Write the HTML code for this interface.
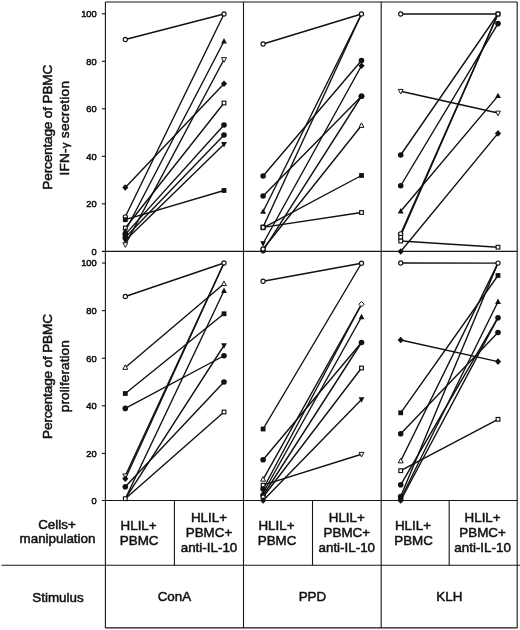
<!DOCTYPE html>
<html><head><meta charset="utf-8"><title>Figure</title>
<style>html,body{margin:0;padding:0;background:#fff}svg{display:block}text{font-family:"Liberation Sans",sans-serif;fill:#111}</style></head><body>
<svg width="520" height="630" viewBox="0 0 520 630">
<rect width="520" height="630" fill="#fff"/>
<g stroke="#151515" stroke-width="1.1" fill="none">
<line x1="105.4" y1="2.0" x2="517.2" y2="2.0"/>
<line x1="101.9" y1="251.4" x2="517.2" y2="251.4"/>
<line x1="101.9" y1="500.5" x2="517.2" y2="500.5"/>
<line x1="1.5" y1="565.3" x2="520" y2="565.3"/>
<line x1="105.4" y1="627.9" x2="517.2" y2="627.9"/>
<line x1="105.4" y1="2.0" x2="105.4" y2="627.9"/>
<line x1="243.5" y1="2.0" x2="243.5" y2="627.9"/>
<line x1="381.2" y1="2.0" x2="381.2" y2="627.9"/>
<line x1="517.2" y1="2.0" x2="517.2" y2="627.9"/>
<line x1="174.4" y1="500.5" x2="174.4" y2="565.3"/>
<line x1="312.5" y1="500.5" x2="312.5" y2="565.3"/>
<line x1="449.2" y1="500.5" x2="449.2" y2="565.3"/>
<line x1="101.9" y1="203.80" x2="105.4" y2="203.80"/>
<line x1="101.9" y1="156.30" x2="105.4" y2="156.30"/>
<line x1="101.9" y1="108.80" x2="105.4" y2="108.80"/>
<line x1="101.9" y1="61.30" x2="105.4" y2="61.30"/>
<line x1="101.9" y1="13.80" x2="105.4" y2="13.80"/>
<line x1="101.9" y1="453.40" x2="105.4" y2="453.40"/>
<line x1="101.9" y1="405.80" x2="105.4" y2="405.80"/>
<line x1="101.9" y1="358.20" x2="105.4" y2="358.20"/>
<line x1="101.9" y1="310.60" x2="105.4" y2="310.60"/>
<line x1="101.9" y1="263.00" x2="105.4" y2="263.00"/>
</g>
<g font-size="9.3" text-anchor="end" stroke="#111" stroke-width="0.5">
<text x="96.7" y="254.70">0</text>
<text x="96.7" y="207.20">20</text>
<text x="96.7" y="159.70">40</text>
<text x="96.7" y="112.20">60</text>
<text x="96.7" y="64.70">80</text>
<text x="96.7" y="17.20">100</text>
<text x="96.7" y="504.40">0</text>
<text x="96.7" y="456.80">20</text>
<text x="96.7" y="409.20">40</text>
<text x="96.7" y="361.60">60</text>
<text x="96.7" y="314.00">80</text>
<text x="96.7" y="266.40">100</text>
</g>
<g stroke="#111" stroke-width="1.4" stroke-linecap="round">
<line x1="125.3" y1="39.5" x2="224.0" y2="14"/>
<line x1="125.3" y1="216.8" x2="224.0" y2="14"/>
<line x1="125.3" y1="187.5" x2="224.0" y2="83.75"/>
<line x1="125.3" y1="219.7" x2="224.0" y2="190.5"/>
<line x1="125.3" y1="228.0" x2="224.0" y2="103"/>
<line x1="125.3" y1="231.0" x2="224.0" y2="41.25"/>
<line x1="125.3" y1="234.4" x2="224.0" y2="125"/>
<line x1="125.3" y1="237.5" x2="224.0" y2="135"/>
<line x1="125.3" y1="240.6" x2="224.0" y2="144.25"/>
<line x1="125.3" y1="244.6" x2="224.0" y2="59.5"/>
<line x1="263.1" y1="44.0" x2="361.5" y2="14"/>
<line x1="263.1" y1="176.0" x2="361.5" y2="60.5"/>
<line x1="263.1" y1="196.0" x2="361.5" y2="96.25"/>
<line x1="263.1" y1="211.5" x2="361.5" y2="14"/>
<line x1="263.1" y1="227.8" x2="361.5" y2="175.5"/>
<line x1="263.1" y1="227.0" x2="361.5" y2="14"/>
<line x1="263.1" y1="227.4" x2="361.5" y2="212.5"/>
<line x1="263.1" y1="243.5" x2="361.5" y2="65.75"/>
<line x1="263.1" y1="250.6" x2="361.5" y2="96.25"/>
<line x1="263.1" y1="249.0" x2="361.5" y2="125.5"/>
<line x1="400.7" y1="14" x2="498.0" y2="14"/>
<line x1="400.7" y1="91.25" x2="498.0" y2="113"/>
<line x1="400.7" y1="155" x2="498.0" y2="14"/>
<line x1="400.7" y1="185.75" x2="498.0" y2="23.6"/>
<line x1="400.7" y1="211.25" x2="498.0" y2="95.9"/>
<line x1="400.7" y1="233.9" x2="498.0" y2="14"/>
<line x1="400.7" y1="235.7" x2="498.0" y2="14"/>
<line x1="400.7" y1="241" x2="498.0" y2="247.2"/>
<line x1="400.7" y1="251.5" x2="498.0" y2="133.4"/>
<line x1="125.3" y1="296.5" x2="224.0" y2="263"/>
<line x1="125.3" y1="367.5" x2="224.0" y2="283.75"/>
<line x1="125.3" y1="393.5" x2="224.0" y2="313.75"/>
<line x1="125.3" y1="408.4" x2="224.0" y2="355.75"/>
<line x1="125.3" y1="475.8" x2="224.0" y2="263"/>
<line x1="125.3" y1="478.8" x2="224.0" y2="263"/>
<line x1="125.3" y1="486.7" x2="224.0" y2="382"/>
<line x1="125.3" y1="498.7" x2="224.0" y2="290.75"/>
<line x1="125.3" y1="498.7" x2="224.0" y2="345.5"/>
<line x1="125.3" y1="498.7" x2="224.0" y2="412"/>
<line x1="263.1" y1="281.25" x2="361.5" y2="263.25"/>
<line x1="263.1" y1="429" x2="361.5" y2="263.25"/>
<line x1="263.1" y1="459.8" x2="361.5" y2="342.5"/>
<line x1="263.1" y1="479.3" x2="361.5" y2="304.25"/>
<line x1="263.1" y1="485.2" x2="361.5" y2="454.25"/>
<line x1="263.1" y1="489" x2="361.5" y2="304.25"/>
<line x1="263.1" y1="493" x2="361.5" y2="317"/>
<line x1="263.1" y1="495.5" x2="361.5" y2="342.5"/>
<line x1="263.1" y1="497.0" x2="361.5" y2="368"/>
<line x1="263.1" y1="500.5" x2="361.5" y2="399.5"/>
<line x1="400.7" y1="263" x2="498.0" y2="263.1"/>
<line x1="400.7" y1="340" x2="498.0" y2="361.6"/>
<line x1="400.7" y1="412.8" x2="498.0" y2="275.5"/>
<line x1="400.7" y1="433.7" x2="498.0" y2="332.5"/>
<line x1="400.7" y1="461" x2="498.0" y2="263.1"/>
<line x1="400.7" y1="470.7" x2="498.0" y2="419.3"/>
<line x1="400.7" y1="484.8" x2="498.0" y2="317.7"/>
<line x1="400.7" y1="496.5" x2="498.0" y2="263.1"/>
<line x1="400.7" y1="499" x2="498.0" y2="301.8"/>
<line x1="400.7" y1="500.5" x2="498.0" y2="317.7"/>
</g>
<g>
<circle cx="125.3" cy="39.5" r="2.1" fill="#fff" stroke="#111" stroke-width="1.15"/>
<circle cx="224.0" cy="14" r="2.1" fill="#fff" stroke="#111" stroke-width="1.15"/>
<circle cx="125.3" cy="216.8" r="2.1" fill="#fff" stroke="#111" stroke-width="1.15"/>
<polygon points="125.30,184.20 128.40,187.50 125.30,190.80 122.20,187.50" fill="#111"/>
<polygon points="224.00,80.45 227.10,83.75 224.00,87.05 220.90,83.75" fill="#111"/>
<rect x="122.90" y="217.30" width="4.8" height="4.8" fill="#111"/>
<rect x="221.60" y="188.10" width="4.8" height="4.8" fill="#111"/>
<rect x="123.45" y="226.15" width="3.7" height="3.7" fill="#fff" stroke="#111" stroke-width="1.15"/>
<rect x="222.15" y="101.15" width="3.7" height="3.7" fill="#fff" stroke="#111" stroke-width="1.15"/>
<polygon points="125.30,227.80 122.40,233.20 128.20,233.20" fill="#111"/>
<polygon points="224.00,38.05 221.10,43.45 226.90,43.45" fill="#111"/>
<circle cx="125.3" cy="234.4" r="2.8" fill="#111"/>
<circle cx="224.0" cy="125" r="2.8" fill="#111"/>
<circle cx="125.3" cy="237.5" r="2.8" fill="#111"/>
<circle cx="224.0" cy="135" r="2.8" fill="#111"/>
<polygon points="125.30,243.80 122.40,238.40 128.20,238.40" fill="#111"/>
<polygon points="224.00,147.45 221.10,142.05 226.90,142.05" fill="#111"/>
<polygon points="125.30,247.80 122.40,242.40 128.20,242.40" fill="#fff" stroke="#111" stroke-width="1.15" transform="translate(125.30 244.60) scale(0.85) translate(-125.30 -244.60)"/>
<polygon points="224.00,62.70 221.10,57.30 226.90,57.30" fill="#fff" stroke="#111" stroke-width="1.15" transform="translate(224.00 59.50) scale(0.85) translate(-224.00 -59.50)"/>
<circle cx="263.1" cy="44.0" r="2.1" fill="#fff" stroke="#111" stroke-width="1.15"/>
<circle cx="361.5" cy="14" r="2.1" fill="#fff" stroke="#111" stroke-width="1.15"/>
<circle cx="263.1" cy="176.0" r="2.8" fill="#111"/>
<circle cx="361.5" cy="60.5" r="2.8" fill="#111"/>
<circle cx="263.1" cy="196.0" r="2.8" fill="#111"/>
<circle cx="361.5" cy="96.25" r="2.8" fill="#111"/>
<polygon points="263.10,208.30 260.20,213.70 266.00,213.70" fill="#111"/>
<rect x="260.70" y="225.40" width="4.8" height="4.8" fill="#111"/>
<rect x="359.10" y="173.10" width="4.8" height="4.8" fill="#111"/>
<rect x="261.25" y="225.15" width="3.7" height="3.7" fill="#fff" stroke="#111" stroke-width="1.15"/>
<rect x="261.25" y="225.55" width="3.7" height="3.7" fill="#fff" stroke="#111" stroke-width="1.15"/>
<rect x="359.65" y="210.65" width="3.7" height="3.7" fill="#fff" stroke="#111" stroke-width="1.15"/>
<polygon points="263.10,246.70 260.20,241.30 266.00,241.30" fill="#111"/>
<polygon points="361.50,62.45 364.60,65.75 361.50,69.05 358.40,65.75" fill="#111"/>
<circle cx="263.1" cy="250.6" r="2.8" fill="#111"/>
<circle cx="361.5" cy="96.25" r="2.8" fill="#111"/>
<circle cx="263.1" cy="249.0" r="2.1" fill="#fff" stroke="#111" stroke-width="1.15"/>
<polygon points="361.50,122.30 358.60,127.70 364.40,127.70" fill="#fff" stroke="#111" stroke-width="1.15" transform="translate(361.50 125.50) scale(0.85) translate(-361.50 -125.50)"/>
<circle cx="400.7" cy="14" r="2.1" fill="#fff" stroke="#111" stroke-width="1.15"/>
<circle cx="498.0" cy="14" r="2.1" fill="#fff" stroke="#111" stroke-width="1.15"/>
<polygon points="400.70,94.45 397.80,89.05 403.60,89.05" fill="#fff" stroke="#111" stroke-width="1.15" transform="translate(400.70 91.25) scale(0.85) translate(-400.70 -91.25)"/>
<polygon points="498.00,116.20 495.10,110.80 500.90,110.80" fill="#fff" stroke="#111" stroke-width="1.15" transform="translate(498.00 113.00) scale(0.85) translate(-498.00 -113.00)"/>
<circle cx="400.7" cy="155" r="2.8" fill="#111"/>
<circle cx="400.7" cy="185.75" r="2.8" fill="#111"/>
<circle cx="498.0" cy="23.6" r="2.8" fill="#111"/>
<polygon points="400.70,208.05 397.80,213.45 403.60,213.45" fill="#111"/>
<polygon points="498.00,92.70 495.10,98.10 500.90,98.10" fill="#111"/>
<circle cx="400.7" cy="233.9" r="2.1" fill="#fff" stroke="#111" stroke-width="1.15"/>
<rect x="496.15" y="12.15" width="3.7" height="3.7" fill="#fff" stroke="#111" stroke-width="1.15"/>
<rect x="398.85" y="235.45" width="3.7" height="3.7" fill="#fff" stroke="#111" stroke-width="1.15"/>
<rect x="398.85" y="239.15" width="3.7" height="3.7" fill="#fff" stroke="#111" stroke-width="1.15"/>
<rect x="496.15" y="245.35" width="3.7" height="3.7" fill="#fff" stroke="#111" stroke-width="1.15"/>
<polygon points="400.70,248.20 403.80,251.50 400.70,254.80 397.60,251.50" fill="#111"/>
<polygon points="498.00,130.10 501.10,133.40 498.00,136.70 494.90,133.40" fill="#111"/>
<circle cx="125.3" cy="296.5" r="2.1" fill="#fff" stroke="#111" stroke-width="1.15"/>
<circle cx="224.0" cy="263" r="2.1" fill="#fff" stroke="#111" stroke-width="1.15"/>
<polygon points="125.30,364.30 122.40,369.70 128.20,369.70" fill="#fff" stroke="#111" stroke-width="1.15" transform="translate(125.30 367.50) scale(0.85) translate(-125.30 -367.50)"/>
<polygon points="224.00,280.55 221.10,285.95 226.90,285.95" fill="#fff" stroke="#111" stroke-width="1.15" transform="translate(224.00 283.75) scale(0.85) translate(-224.00 -283.75)"/>
<rect x="122.90" y="391.10" width="4.8" height="4.8" fill="#111"/>
<rect x="221.60" y="311.35" width="4.8" height="4.8" fill="#111"/>
<circle cx="125.3" cy="408.4" r="2.8" fill="#111"/>
<circle cx="224.0" cy="355.75" r="2.8" fill="#111"/>
<polygon points="125.30,479.00 122.40,473.60 128.20,473.60" fill="#fff" stroke="#111" stroke-width="1.15" transform="translate(125.30 475.80) scale(0.85) translate(-125.30 -475.80)"/>
<polygon points="125.30,475.50 128.40,478.80 125.30,482.10 122.20,478.80" fill="#111"/>
<circle cx="125.3" cy="486.7" r="2.8" fill="#111"/>
<circle cx="224.0" cy="382" r="2.8" fill="#111"/>
<polygon points="224.00,287.55 221.10,292.95 226.90,292.95" fill="#111"/>
<polygon points="224.00,348.70 221.10,343.30 226.90,343.30" fill="#111"/>
<rect x="123.45" y="496.85" width="3.7" height="3.7" fill="#fff" stroke="#111" stroke-width="1.15"/>
<rect x="222.15" y="410.15" width="3.7" height="3.7" fill="#fff" stroke="#111" stroke-width="1.15"/>
<circle cx="263.1" cy="281.25" r="2.1" fill="#fff" stroke="#111" stroke-width="1.15"/>
<circle cx="361.5" cy="263.25" r="2.1" fill="#fff" stroke="#111" stroke-width="1.15"/>
<rect x="260.70" y="426.60" width="4.8" height="4.8" fill="#111"/>
<circle cx="263.1" cy="459.8" r="2.8" fill="#111"/>
<circle cx="361.5" cy="342.5" r="2.8" fill="#111"/>
<polygon points="263.10,476.10 260.20,481.50 266.00,481.50" fill="#fff" stroke="#111" stroke-width="1.15" transform="translate(263.10 479.30) scale(0.85) translate(-263.10 -479.30)"/>
<rect x="261.25" y="483.35" width="3.7" height="3.7" fill="#fff" stroke="#111" stroke-width="1.15"/>
<polygon points="361.50,457.45 358.60,452.05 364.40,452.05" fill="#fff" stroke="#111" stroke-width="1.15" transform="translate(361.50 454.25) scale(0.85) translate(-361.50 -454.25)"/>
<circle cx="263.1" cy="489" r="2.8" fill="#111"/>
<polygon points="361.50,300.95 364.60,304.25 361.50,307.55 358.40,304.25" fill="#fff" stroke="#111" stroke-width="1.15" transform="translate(361.50 304.25) scale(0.85) translate(-361.50 -304.25)"/>
<polygon points="263.10,489.80 260.20,495.20 266.00,495.20" fill="#111"/>
<polygon points="361.50,313.80 358.60,319.20 364.40,319.20" fill="#111"/>
<circle cx="263.1" cy="495.5" r="2.8" fill="#111"/>
<rect x="261.25" y="495.15" width="3.7" height="3.7" fill="#fff" stroke="#111" stroke-width="1.15"/>
<rect x="359.65" y="366.15" width="3.7" height="3.7" fill="#fff" stroke="#111" stroke-width="1.15"/>
<polygon points="263.10,497.20 266.20,500.50 263.10,503.80 260.00,500.50" fill="#111"/>
<polygon points="361.50,402.70 358.60,397.30 364.40,397.30" fill="#111"/>
<circle cx="400.7" cy="263" r="2.1" fill="#fff" stroke="#111" stroke-width="1.15"/>
<circle cx="498.0" cy="263.1" r="2.1" fill="#fff" stroke="#111" stroke-width="1.15"/>
<polygon points="400.70,336.70 403.80,340.00 400.70,343.30 397.60,340.00" fill="#111"/>
<polygon points="498.00,358.30 501.10,361.60 498.00,364.90 494.90,361.60" fill="#111"/>
<rect x="398.30" y="410.40" width="4.8" height="4.8" fill="#111"/>
<rect x="495.60" y="273.10" width="4.8" height="4.8" fill="#111"/>
<circle cx="400.7" cy="433.7" r="2.8" fill="#111"/>
<circle cx="498.0" cy="332.5" r="2.8" fill="#111"/>
<polygon points="400.70,457.80 397.80,463.20 403.60,463.20" fill="#fff" stroke="#111" stroke-width="1.15" transform="translate(400.70 461.00) scale(0.85) translate(-400.70 -461.00)"/>
<rect x="398.85" y="468.85" width="3.7" height="3.7" fill="#fff" stroke="#111" stroke-width="1.15"/>
<rect x="496.15" y="417.45" width="3.7" height="3.7" fill="#fff" stroke="#111" stroke-width="1.15"/>
<circle cx="400.7" cy="484.8" r="2.8" fill="#111"/>
<circle cx="498.0" cy="317.7" r="2.8" fill="#111"/>
<circle cx="400.7" cy="496.5" r="2.8" fill="#111"/>
<circle cx="400.7" cy="499" r="2.8" fill="#111"/>
<polygon points="498.00,298.60 495.10,304.00 500.90,304.00" fill="#111"/>
<polygon points="400.70,497.20 403.80,500.50 400.70,503.80 397.60,500.50" fill="#111"/>
</g>
<g font-size="13.6" text-anchor="middle" stroke="#111" stroke-width="0.5">
<text transform="translate(51.9 127.2) rotate(-90)" textLength="125" lengthAdjust="spacing">Percentage of PBMC</text>
<text transform="translate(69.0 128.3) rotate(-90)" textLength="94.5" lengthAdjust="spacing">IFN-<tspan font-size="11.5">γ</tspan> secretion</text>
<text transform="translate(51.9 376.5) rotate(-90)" textLength="125" lengthAdjust="spacing">Percentage of PBMC</text>
<text transform="translate(69.0 376.2) rotate(-90)" textLength="72" lengthAdjust="spacing">proliferation</text>
</g>
<g font-size="13.4" text-anchor="middle" stroke="#111" stroke-width="0.5">
<text x="57" y="528.8">Cells+</text>
<text x="57.5" y="543.4">manipulation</text>
<text x="58" y="602.4">Stimulus</text>
<text x="138.6" y="529.6">HLIL+</text>
<text x="139.2" y="544.6">PBMC</text>
<text x="209" y="521.5">HLIL+</text>
<text x="209" y="536.8">PBMC+</text>
<text x="209" y="552.1">anti-IL-10</text>
<text x="174.4" y="601.1">ConA</text>
<text x="276.5" y="529.6">HLIL+</text>
<text x="277.1" y="544.6">PBMC</text>
<text x="346.8" y="521.5">HLIL+</text>
<text x="346.8" y="536.8">PBMC+</text>
<text x="346.8" y="552.1">anti-IL-10</text>
<text x="312.4" y="601.1">PPD</text>
<text x="413" y="529.6">HLIL+</text>
<text x="413.6" y="544.6">PBMC</text>
<text x="482.6" y="521.5">HLIL+</text>
<text x="482.6" y="536.8">PBMC+</text>
<text x="482.6" y="552.1">anti-IL-10</text>
<text x="449.4" y="601.1">KLH</text>
</g>
</svg></body></html>
